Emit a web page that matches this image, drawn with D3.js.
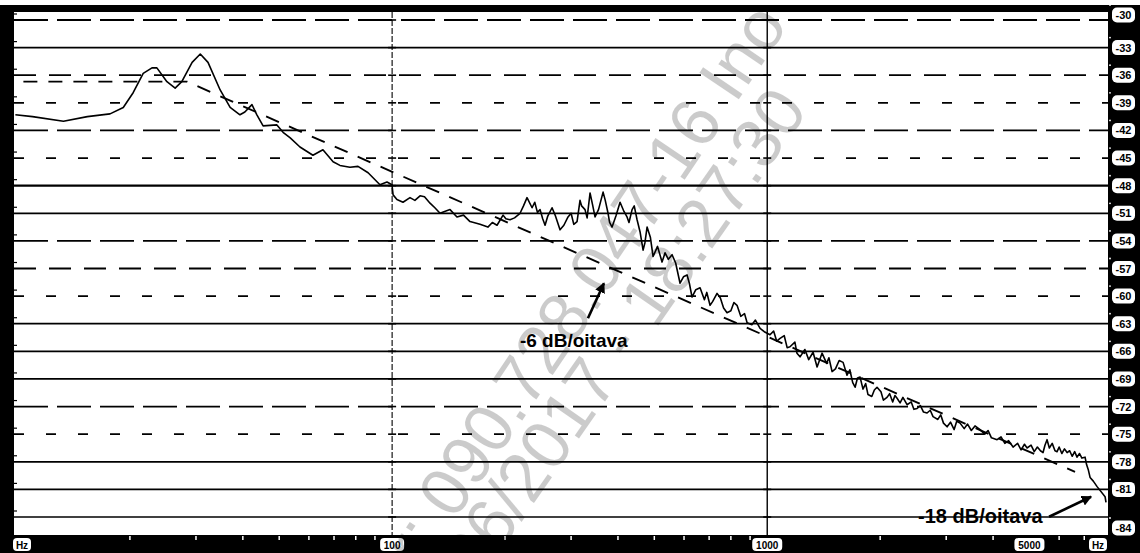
<!DOCTYPE html>
<html><head><meta charset="utf-8">
<script src="https://cdn.jsdelivr.net/npm/d3@7"></script>
<style>body{margin:0;background:#fff;} svg{display:block;}</style>
</head><body>
<svg id="c" width="1140" height="553"></svg>
<script>
// ---- data (frequency in Hz, level in dB) ----
const spectrum = [
 [9.9,-40.3],[11.0,-40.5],[13.3,-41.0],[15.4,-40.5],[17.7,-40.2],[19.2,-39.5],[20.4,-37.9],[21.7,-35.8],
 [22.9,-35.2],[23.6,-35.2],[25.1,-36.7],[26.4,-37.4],[27.5,-36.7],[29.3,-34.6],[30.8,-33.7],[32.3,-34.6],
 [34.8,-37.6],[37.0,-39.5],[39.3,-40.3],[40.5,-40.0],[42.3,-39.2],[43.6,-40.3],[45.3,-41.5],[49.3,-41.4],
 [51.2,-42.2],[53.5,-42.8],[56.8,-43.8],[61.5,-44.7],[65.4,-44.1],[69.6,-45.4],[72.6,-45.8],[77.2,-46.0],
 [81.1,-45.9],[86.3,-46.6],[92.8,-47.9],[96.9,-47.6],[99.9,-47.9],[100.6,-49.0],[103,-49.5],[106.9,-49.8],
 [111.6,-49.3],[115,-49.6],[118.7,-49.1],[122,-49.2],[126.2,-49.9],[130,-50.4],[134.2,-51.0],[138,-50.8],
 [142.7,-50.6],[148.9,-51.4],[155,-51.2],[161.3,-51.9],[165,-52.0],[171.5,-52.2],[180,-52.5],[185,-52.0],
 [190.4,-52.3],[197.6,-51.2],[201,-51.6],[206.2,-51.7],[212,-51.5],[219.3,-51.0],[224,-50.2],[228.9,-49.3],
 [236.1,-50.4],[240,-49.8],[244,-50.9],[248.0,-50.6],[252,-51.6],[255.7,-52.3],[260,-51.3],[266.9,-50.4],
 [272,-51.2],[280.3,-52.8],[287,-52.3],[294.4,-51.4],[300,-51.0],[305,-52.2],[311.2,-51.9],[316.9,-49.6],
 [320,-50.2],[326.8,-50.6],[331,-51.5],[337.0,-48.8],[342,-50.0],[347.5,-51.4],[355,-50.6],[365.1,-48.7],
 [370,-49.6],[376.4,-51.0],[380,-52.0],[385.8,-52.5],[395,-51.3],[405.2,-49.8],[415,-50.8],[422.9,-51.4],
 [428,-52.0],[436.2,-50.6],[442,-50.2],[449.8,-51.7],[458,-53.0],[466.7,-55.0],[472,-54.2],[478.3,-52.5],
 [488,-53.6],[496.2,-55.7],[510,-54.6],[524.3,-56.3],[534.1,-55.3],[545,-56.0],[557.6,-55.5],[570,-56.4],
 [585.6,-58.6],[598,-57.9],[611.3,-57.7],[620,-58.6],[630.3,-60.1],[645,-59.3],[662.1,-59.1],[680,-60.4],
 [690,-59.6],[703.9,-61.0],[715,-60.6],[734.9,-59.7],[750,-60.2],[765,-61.3],[781.3,-61.8],[800,-61.6],
 [815,-60.7],[830.8,-61.0],[850,-62.2],[870,-61.9],[883.7,-62.9],[910,-63.1],[930,-62.6],[957.2,-63.5],
 [985,-63.9],[1017,-64.2],[1040,-63.8],[1060,-64.9],[1082,-64.6],[1110,-64.3],[1130,-65.6],[1150,-65.5],
 [1185,-65.0],[1200,-66.2],[1223,-66.6],[1260,-65.8],[1290,-66.9],[1325,-66.1],[1358,-67.7],[1400,-66.2],
 [1440,-67.3],[1460,-66.7],[1489,-68.2],[1520,-67.9],[1555,-67.0],[1593,-67.2],[1632,-68.6],[1660,-68.0],
 [1690,-69.4],[1715,-69.9],[1740,-68.9],[1768,-68.8],[1800,-70.1],[1830,-69.5],[1856,-70.7],[1900,-70.9],
 [1930,-70.2],[1962,-69.9],[2010,-70.4],[2040,-71.3],[2086,-71.0],[2120,-70.6],[2160,-71.5],[2190,-70.8],
 [2219,-71.1],[2260,-71.6],[2300,-71.0],[2359,-71.8],[2420,-71.5],[2460,-72.3],[2509,-72.2],[2560,-71.9],
 [2610,-72.6],[2667,-72.7],[2720,-72.4],[2767,-73.1],[2850,-73.4],[2900,-72.9],[2950,-73.8],[3016,-74.2],
 [3080,-73.7],[3150,-74.5],[3200,-73.6],[3266,-73.8],[3350,-74.4],[3420,-73.9],[3500,-74.6],[3580,-74.1],
 [3693,-74.5],[3800,-75.0],[3880,-74.6],[3960,-75.4],[4100,-75.6],[4200,-75.3],[4300,-76.0],[4400,-75.7],
 [4522,-76.4],[4650,-76.0],[4750,-76.7],[4850,-76.1],[4928,-76.5],[5050,-76.2],[5150,-76.9],[5250,-76.4],
 [5350,-76.8],[5436,-77.0],[5500,-76.2],[5571,-75.6],[5650,-76.5],[5750,-76.0],[5850,-76.8],[5924,-76.9],
 [6000,-76.4],[6100,-77.1],[6200,-76.6],[6300,-77.0],[6400,-76.8],[6500,-77.4],[6600,-76.9],[6697,-77.5],
 [6800,-77.1],[6900,-77.6],[7035,-77.5],[7100,-78.3],[7180,-78.9],[7255,-79.7],[7400,-80.1],[7574,-80.7],
 [7955,-81.8],[8000,-82.4]
];
const referenceHz = [10.4, 28.4, 6616];
const referenceDb = [-36.7, -36.7, -79.1];
const yTicks = [-30,-33,-36,-39,-42,-45,-48,-51,-54,-57,-60,-63,-66,-69,-72,-75,-78,-81,-84];
const yTickLabels = ["-30","-33","-36","-39","-42","-45","-48","-51","-54","-57","-60","-63","-66","-69","-72","-75","-78","-81","-84"];
const xMajorTicks = [100, 1000];
const xTickValues = [100, 1000, 5000];
const xTickLabels = ["100","1000","5000"];
const xMinorTicks = [20,30,40,50,60,70,80,90,200,300,400,500,600,700,800,900,2000,3000,4000,6000,7000];
const annotationTexts = ["-6 dB/oitava", "-18 dB/oitava"];
const annotationHz = [367, 7300];
const annotationDb = [-58.6, -81.8];
const watermarkLines = ["r: 090.728.047-16 Ino", "/06/2017 - 18:27:30"];

// ---- styles / layout ----
const W = 1140, H = 553;
const plot = {left:14, right:1108, top:12, bottom:535};
const gridStyle = ["long","solid","dash","sparse","long","sparse","solid","solid","long","dash",
                   "sparse","solid","solid","solid","long","sparse","solid","solid","solid"];
const dashes = {solid:null, long:"34,9", dash:"22,13", sparse:"10,22"};
const FONT = "Liberation Sans, Arial, sans-serif";

const svg = d3.select("#c");
const x = d3.scaleLog().domain([10, 8000]).range([17, 1106]);
const y = d3.scaleLinear().domain([-30, -84]).range([20, 517]);

svg.append("rect").attr("width",W).attr("height",H).attr("fill","#fff");

const defs = svg.append("defs");
defs.append("clipPath").attr("id","clip").append("rect")
  .attr("x",plot.left).attr("y",plot.top).attr("width",plot.right-plot.left).attr("height",plot.bottom-plot.top);
defs.append("marker").attr("id","arr").attr("viewBox","0 0 10 10")
  .attr("refX",9).attr("refY",5).attr("markerWidth",4).attr("markerHeight",4)
  .attr("orient","auto").append("path").attr("d","M0,0L10,5L0,10z").attr("fill","#000");

const g = svg.append("g");

// horizontal grid
g.selectAll("line.h").data(yTicks).join("line")
  .attr("x1",plot.left).attr("x2",plot.right)
  .attr("y1",d=>y(d)).attr("y2",d=>y(d))
  .attr("stroke","#000")
  .attr("stroke-width",(d,i)=> gridStyle[i]==="solid" ? (d===-48?2.3:1.7) : 1.8)
  .attr("stroke-dasharray",(d,i)=>dashes[gridStyle[i]]);

// vertical grid at decades
g.selectAll("line.v").data(xMajorTicks).join("line")
  .attr("x1",d=>x(d)).attr("x2",d=>x(d))
  .attr("y1",plot.top).attr("y2",plot.bottom)
  .attr("stroke","#000").attr("stroke-width",(d,i)=> i===0?1.1:1.4)
  .attr("stroke-dasharray",(d,i)=> i===0?"6,2":null);
xMajorTicks.forEach(f=>{
  g.selectAll(null).data(yTicks).join("line")
    .attr("x1",x(f)-4).attr("x2",x(f)+4)
    .attr("y1",d=>y(d)).attr("y2",d=>y(d))
    .attr("stroke","#000").attr("stroke-width",1.6);
});

// reference (asymptote) dashed line
const refData = referenceHz.map((h,i)=>[h,referenceDb[i]]);
g.append("path").datum(refData)
  .attr("d", d3.line().x(d=>x(d[0])).y(d=>y(d[1])))
  .attr("fill","none").attr("stroke","#000").attr("stroke-width",1.9)
  .attr("stroke-dasharray","14,11");

// spectrum curve
const spec = spectrum.slice().sort((a,b)=>a[0]-b[0]);
g.append("path").datum(spec)
  .attr("clip-path","url(#clip)")
  .attr("d", d3.line().x(d=>x(d[0])).y(d=>y(d[1])))
  .attr("fill","none").attr("stroke","#000").attr("stroke-width",1.6)
  .attr("stroke-linejoin","round");

// annotations
const tip1 = [x(annotationHz[0]), y(annotationDb[0])];
g.append("line").attr("x1",tip1[0]-16).attr("y1",tip1[1]+35)
  .attr("x2",tip1[0]).attr("y2",tip1[1])
  .attr("stroke","#000").attr("stroke-width",2.6).attr("marker-end","url(#arr)");
g.append("text").attr("x",tip1[0]-84).attr("y",tip1[1]+64)
  .attr("font-family",FONT).attr("font-weight","bold")
  .attr("font-size",19).text(annotationTexts[0]);

const tip2 = [x(annotationHz[1]), y(annotationDb[1])];
g.append("line").attr("x1",tip2[0]-42).attr("y1",tip2[1]+20)
  .attr("x2",tip2[0]).attr("y2",tip2[1])
  .attr("stroke","#000").attr("stroke-width",2.6).attr("marker-end","url(#arr)");
g.append("text").attr("x",tip2[0]-173).attr("y",tip2[1]+26)
  .attr("font-family",FONT).attr("font-weight","bold")
  .attr("font-size",20).text(annotationTexts[1]);

// frame bands
const fr = svg.append("g").attr("fill","#000");
fr.append("rect").attr("x",0).attr("y",5).attr("width",W).attr("height",plot.top-5);
fr.append("rect").attr("x",0).attr("y",5).attr("width",plot.left).attr("height",H-5);
fr.append("rect").attr("x",plot.right).attr("y",5).attr("width",W-plot.right).attr("height",H-5);
fr.append("rect").attr("x",0).attr("y",plot.bottom).attr("width",W).attr("height",H-plot.bottom);

// left edge small ticks
svg.selectAll("line.lt").data(yTicks).join("line")
  .attr("x1",plot.left).attr("x2",plot.left+3).attr("y1",d=>y(d)-6).attr("y2",d=>y(d)-6)
  .attr("stroke","#000").attr("stroke-width",1.2);

// minor ticks in bottom band (white)
svg.selectAll("line.mt").data(xMinorTicks).join("line")
  .attr("x1",d=>x(d)).attr("x2",d=>x(d)).attr("y1",plot.bottom+1).attr("y2",plot.bottom+5)
  .attr("stroke","#fff").attr("stroke-width",1.5);

// right y labels (white boxes, black text)
const yl = svg.append("g");
yTicks.forEach((d,i)=>{
  let cy = y(d);
  if (i===0) cy = 15;
  if (i===yTicks.length-1) cy = 528;
  yl.append("rect").attr("x",1112).attr("y",cy-7.5).attr("width",23).attr("height",15)
    .attr("rx",5).attr("fill","#fff");
  yl.append("text").attr("x",1123.5).attr("y",cy+4).attr("text-anchor","middle")
    .attr("font-family",FONT).attr("font-weight","bold")
    .attr("font-size",11).attr("fill","#000").text(yTickLabels[i]);
  yl.append("circle").attr("cx",1110).attr("cy",cy-10).attr("r",0.9).attr("fill","#fff");
});

// bottom x labels
const xl = svg.append("g");
function boxLabel(cx, txt, w){
  xl.append("rect").attr("x",cx-w/2).attr("y",538).attr("width",w).attr("height",13)
    .attr("rx",4).attr("fill","#fff");
  xl.append("text").attr("x",cx).attr("y",548.5).attr("text-anchor","middle")
    .attr("font-family",FONT).attr("font-weight","bold")
    .attr("font-size",10).attr("fill","#000").text(txt);
}
boxLabel(22, "Hz", 18);
xTickValues.forEach((v,i)=> boxLabel(x(v), xTickLabels[i], xTickLabels[i].length*6+6));
boxLabel(1098, "Hz", 18);

// watermark
const wm = svg.append("g").attr("fill","#000").attr("opacity",0.2)
  .attr("font-family",FONT).attr("font-size",69);
wm.append("text").attr("transform","translate(420,572) rotate(-56)").text(watermarkLines[0]);
wm.append("text").attr("transform","translate(466,600) rotate(-55)").text(watermarkLines[1]);
</script>
</body></html>
